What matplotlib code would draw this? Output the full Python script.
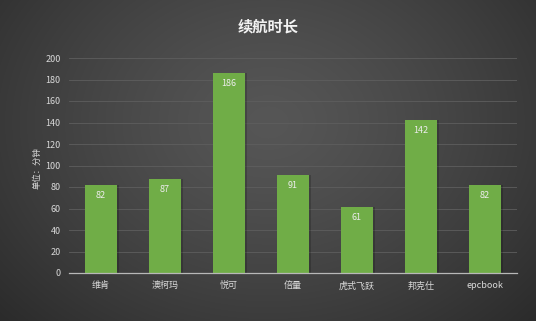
import numpy as np
import matplotlib
matplotlib.use("Agg")
import matplotlib.pyplot as plt

plt.rcParams['font.family'] = ['Noto Sans CJK SC', 'DejaVu Sans']

categories = ["维肯", "澳柯玛", "悦可", "倍量", "虎式飞跃", "邦克仕", "epcbook"]
values = [82, 87, 186, 91, 61, 142, 82]
title = "续航时长"
ylabel = "单位：分钟"

W, H = 536, 321
fig = plt.figure(figsize=(W / 100, H / 100), dpi=100)

# radial gradient background
bg = fig.add_axes([0, 0, 1, 1], zorder=-10)
yy, xx = np.mgrid[0:H, 0:W]
cx, cy = W * 0.5, H * 0.38
r = np.sqrt(((xx - cx) / (W * 0.72)) ** 2 + ((yy - cy) / (H * 0.95)) ** 2)
r = np.clip(r, 0, 1) ** 1.3
inner = np.array([0x56, 0x56, 0x56]) / 255
outer = np.array([0x28, 0x28, 0x28]) / 255
img = inner[None, None, :] * (1 - r[..., None]) + outer[None, None, :] * r[..., None]
bg.imshow(img, aspect='auto', extent=[0, 1, 0, 1])
bg.axis('off')

ax = fig.add_axes([69 / W, 1 - 273 / H, (517 - 69) / W, (273 - 58) / H])
ax.patch.set_alpha(0)
x = np.arange(len(categories))
# subtle shadow
ax.bar(x + 0.012, values, width=0.53, color="#000000", alpha=0.18, zorder=2)
bars = ax.bar(x, values, width=0.5, color="#70ad47", zorder=3)

for xi, v in zip(x, values):
    ax.text(xi, v - 9.5, str(v), ha='center', va='center', color="#ececec", fontsize=6.5)

ax.set_xlim(-0.5, len(categories) - 0.5)
ax.set_ylim(0, 200)
ax.set_yticks(np.arange(0, 201, 20))
ax.set_xticks(x)
ax.set_xticklabels(categories)
ax.tick_params(axis='both', length=0, colors="#d9d9d9", labelsize=6.5)
ax.tick_params(axis='y', pad=6)
ax.tick_params(axis='x', pad=6)
ax.yaxis.grid(True, color="#5e5e5e", linewidth=0.6, zorder=0)
ax.set_axisbelow(True)
for s in ['top', 'right', 'left']:
    ax.spines[s].set_visible(False)
ax.spines['bottom'].set_color("#b8b8b8")
ax.spines['bottom'].set_linewidth(0.9)
ax.spines['bottom'].set_zorder(4)

fig.text(37 / W, 1 - 168 / H, ylabel, rotation=90, ha='center', va='center',
         color="#d9d9d9", fontsize=6)
fig.text(268 / W, 1 - 26 / H, title, ha='center', va='center',
         color="#f2f2f2", fontsize=11, fontweight='bold')

fig.savefig("out.png", dpi=100)
